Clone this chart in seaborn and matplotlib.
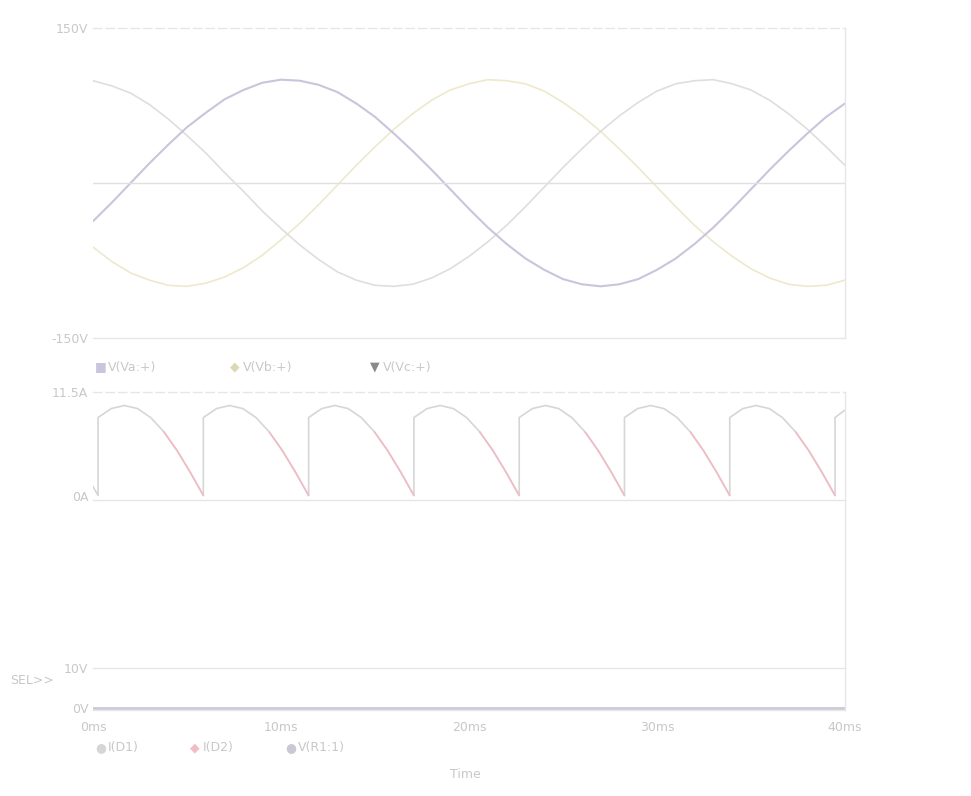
import matplotlib
matplotlib.use("Agg")
import numpy as np
import pandas as pd
import matplotlib.pyplot as plt
import seaborn as sns

# time axis (ms) and three phase voltages
time_ms = list(range(41))
va = [-37, -19, 0, 19, 37, 54, 68, 81, 90, 97, 100, 99, 95, 88, 77, 64, 48, 31, 13, -6,
      -25, -43, -59, -73, -84, -93, -98, -100, -98, -93, -84, -73, -59, -43, -25, -6, 13, 31, 48, 64, 77]
vb = [-62, -76, -87, -94, -99, -100, -97, -91, -82, -70, -55, -39, -21, -2, 17, 35, 52, 67, 80, 90,
      96, 100, 99, 96, 89, 78, 65, 50, 33, 15, -4, -23, -41, -57, -71, -83, -92, -98, -100, -99, -94]
vc = [99, 94, 87, 76, 62, 46, 29, 10, -8, -27, -44, -60, -74, -86, -94, -99, -100, -98, -92, -83,
      -71, -57, -41, -23, -4, 15, 33, 50, 65, 78, 89, 96, 99, 100, 96, 90, 80, 67, 52, 35, 17]

# rectified current (middle plot): one arch shape repeated after each dip
dip_times = [0.27, 5.87, 11.47, 17.07, 22.67, 28.27, 33.87, 39.47]
arch_offsets = [0, 0, 0.7, 1.4, 2.1, 2.8, 3.5, 4.2, 4.9, 5.6]
arch_values = [0, 8.66, 9.66, 10.0, 9.66, 8.66, 7.07, 5.0, 2.59, 0]
lead_t, lead_i = [0.0], [1.0]
tail_t, tail_i = [40.0], [9.5]

# bottom plot: flat trace
flat_t = [0, 40]
flat_v = [0, 0]

xticks = [0, 10, 20, 30, 40]
xticklabels = ["0ms", "10ms", "20ms", "30ms", "40ms"]

txt = "#c8c8c8"
frame = "#e6e6e6"
c_a, c_b, c_c = "#cac4dc", "#eee9cc", "#dedede"
c_arch, c_red = "#d6d6d6", "#f2bcc5"

sns.set_theme(style="white")
plt.rcParams["font.family"] = ["DejaVu Sans"]

fig = plt.figure(figsize=(9.71, 7.96), dpi=100)
W, H = 971, 796

def add_axes(x0, x1, y0, y1):
    return fig.add_axes([x0 / W, 1 - y1 / H, (x1 - x0) / W, (y1 - y0) / H])

ax1 = add_axes(93, 845, 28, 338)
ax2 = add_axes(93, 845, 392, 500)
ax3 = add_axes(93, 845, 668, 710)

for ax in (ax1, ax2, ax3):
    ax.set_xlim(0, 40)
    ax.set_facecolor("white")
    for s in ax.spines.values():
        s.set_color(frame)
        s.set_linewidth(1)
    ax.spines["left"].set_visible(False)
    ax.set_xticks(xticks)
    ax.tick_params(axis="both", colors=txt, labelsize=9, length=3, direction="in")
    ax.grid(False)
ax1.spines["top"].set_linestyle((0, (6, 3)))
ax2.spines["top"].set_linestyle((0, (6, 3)))

# right border continues between middle and bottom plots
fig.add_artist(plt.Line2D([845 / W, 845 / W], [1 - 500 / H, 1 - 668 / H],
                          color=frame, lw=1, transform=fig.transFigure))

# top plot
df_top = pd.DataFrame({"t": time_ms, "a": va, "b": vb, "c": vc})
sns.lineplot(data=df_top, x="t", y="b", ax=ax1, color=c_b, lw=1.2)
sns.lineplot(data=df_top, x="t", y="c", ax=ax1, color=c_c, lw=1.2)
sns.lineplot(data=df_top, x="t", y="a", ax=ax1, color=c_a, lw=1.5)
ax1.axhline(0, color="#e0e0e0", lw=1)
ax1.set_ylim(-150, 150)
ax1.set_yticks([-150, 150])
ax1.set_yticklabels(["-150V", "150V"])
ax1.set_xticklabels([])
ax1.set_xlabel("")
ax1.set_ylabel("")

# middle plot
arch_t, arch_i, red_t, red_i, red_u = list(lead_t), list(lead_i), [], [], []
for k, d in enumerate(dip_times):
    for j, (o, v) in enumerate(zip(arch_offsets, arch_values)):
        if d + o <= 40:
            arch_t.append(d + o)
            arch_i.append(v)
            if j >= 6:
                red_t.append(d + o)
                red_i.append(v)
                red_u.append(k)
arch_t += tail_t
arch_i += tail_i
df_arch = pd.DataFrame({"t": arch_t, "i": arch_i, "u": 0})
df_red = pd.DataFrame({"t": red_t, "i": red_i, "u": red_u})
sns.lineplot(data=df_arch, x="t", y="i", units="u", estimator=None, sort=False,
             ax=ax2, color=c_arch, lw=1.2)
sns.lineplot(data=df_red, x="t", y="i", units="u", estimator=None, sort=False,
             ax=ax2, color=c_red, lw=1.2)
ax2.set_ylim(-0.5, 11.5)
ax2.set_yticks([0, 11.5])
ax2.set_yticklabels(["0A", "11.5A"])
ax2.set_xticklabels([])
ax2.set_xlabel("")
ax2.set_ylabel("")

# bottom plot
df_flat = pd.DataFrame({"t": flat_t, "v": flat_v})
sns.lineplot(data=df_flat, x="t", y="v", ax=ax3, color="#cacad8", lw=2)
ax3.set_ylim(-0.1, 2)
ax3.set_yticks([0, 2])
ax3.set_yticklabels(["0V", "10V"])
ax3.set_xticklabels(xticklabels)
ax3.tick_params(axis="x", pad=8)
ax3.set_xlabel("")
ax3.set_ylabel("")

# legends and labels
def ftext(x, y, s, **kw):
    fig.text(x / W, 1 - y / H, s, color=kw.pop("color", txt), fontsize=kw.pop("fontsize", 9),
             va="center", **kw)

ftext(95, 367, "■", color=c_a)
ftext(108, 367, "V(Va:+)")
ftext(230, 367, "◆", color="#dcd8b4")
ftext(243, 367, "V(Vb:+)")
ftext(370, 367, "▼", color="#8a8a8a")
ftext(383, 367, "V(Vc:+)")
ftext(10, 680, "SEL>>")
ftext(95, 748, "●", color=c_arch)
ftext(108, 748, "I(D1)")
ftext(190, 748, "◆", color=c_red)
ftext(203, 748, "I(D2)")
ftext(285, 748, "●", color="#c8c8d6")
ftext(298, 748, "V(R1:1)")
ftext(465, 774, "Time", ha="center")

fig.savefig("out.png", dpi=100, facecolor="white")
